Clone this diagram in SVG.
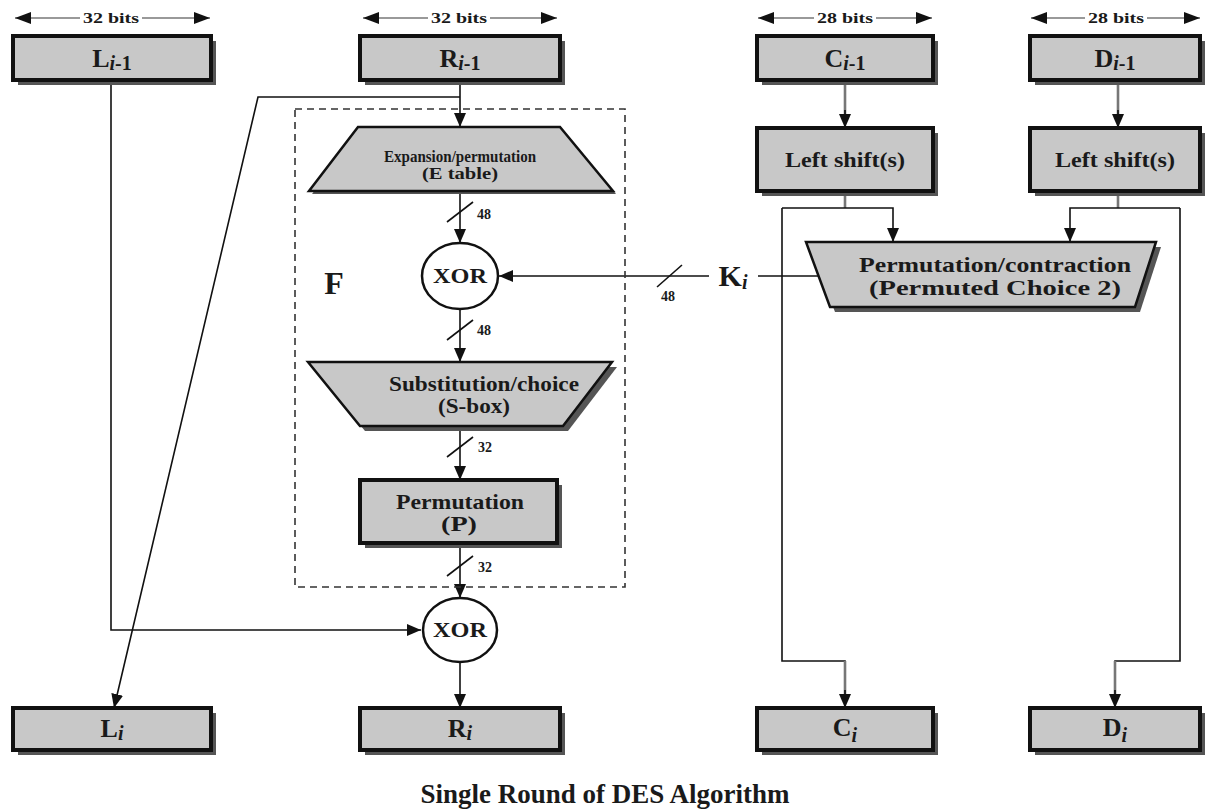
<svg xmlns="http://www.w3.org/2000/svg" width="1206" height="811" viewBox="0 0 1206 811">
  <style>
    .box { fill: #c8c8c8; stroke: #111; stroke-width: 4; }
    .shadow { fill: #555; }
    .trap { fill: #c8c8c8; stroke: #111; stroke-width: 2.5; stroke-linejoin: miter; }
    .xor { fill: #fff; stroke: #111; stroke-width: 2.5; }
    text { font-family: 'Liberation Serif', 'Times New Roman', Tinos, 'DejaVu Serif', serif; }
    .lbl { font-weight: bold; fill: #1a1a1a; text-anchor: middle; }
    .name { font-size: 26px; }
    .sub { font-size: 20px; }
    .it { font-style: italic; }
    .small { font-size: 14px; }
    .mid { font-size: 16px; }
    .big { font-size: 21px; }
    .wire { fill: none; stroke: #111; stroke-width: 1.6; }
    .gwire { fill: none; stroke: #777; stroke-width: 2.6; }
    .dim { fill: none; stroke: #999; stroke-width: 1.8; }
    .tick { stroke: #111; stroke-width: 1.6; }
  </style>
  <defs>
    <marker id="arr" markerUnits="userSpaceOnUse" markerWidth="14" markerHeight="12" viewBox="0 0 14 12" refX="14" refY="6" orient="auto">
      <path d="M0,0 L14,6 L0,12 z" fill="#111"/>
    </marker>
    <marker id="dimArr" markerUnits="userSpaceOnUse" markerWidth="16" markerHeight="12" viewBox="0 0 16 12" refX="16" refY="6" orient="auto-start-reverse">
      <path d="M0,0 L16,6 L0,12 z" fill="#111"/>
    </marker>
  </defs>

  <rect width="1206" height="811" fill="#fff"/>

  <!-- width dimensions -->
  <g id="dimensions">
    <line class="dim" x1="15" y1="18" x2="210" y2="18" marker-start="url(#dimArr)" marker-end="url(#dimArr)"/>
    <rect x="80" y="9" width="62" height="16" fill="#fff"/>
    <text class="lbl small" x="111" y="23" textLength="56" lengthAdjust="spacingAndGlyphs">32 bits</text>
    <line class="dim" x1="363" y1="18" x2="557" y2="18" marker-start="url(#dimArr)" marker-end="url(#dimArr)"/>
    <rect x="428" y="9" width="62" height="16" fill="#fff"/>
    <text class="lbl small" x="459" y="23" textLength="56" lengthAdjust="spacingAndGlyphs">32 bits</text>
    <line class="dim" x1="758" y1="18" x2="932" y2="18" marker-start="url(#dimArr)" marker-end="url(#dimArr)"/>
    <rect x="814" y="9" width="62" height="16" fill="#fff"/>
    <text class="lbl small" x="845" y="23" textLength="56" lengthAdjust="spacingAndGlyphs">28 bits</text>
    <line class="dim" x1="1031" y1="18" x2="1200" y2="18" marker-start="url(#dimArr)" marker-end="url(#dimArr)"/>
    <rect x="1085" y="9" width="62" height="16" fill="#fff"/>
    <text class="lbl small" x="1116" y="23" textLength="56" lengthAdjust="spacingAndGlyphs">28 bits</text>
  </g>

  <!-- connectors -->
  <g id="connectors">
    <!-- L(i-1) to lower XOR -->
    <path class="wire" d="M111,80 V630 H421" marker-end="url(#arr)"/>
    <!-- R(i-1) into F -->
    <path class="wire" d="M460,80 V127" marker-end="url(#arr)"/>
    <!-- R(i-1) becomes L(i) -->
    <path class="wire" d="M460,97 H258 L114,708" marker-end="url(#arr)"/>
    <!-- inside F -->
    <path class="wire" d="M460,191 V243" marker-end="url(#arr)"/>
    <line class="tick" x1="447" y1="222" x2="473" y2="202"/>
    <text class="lbl small" x="484" y="219">48</text>
    <path class="wire" d="M460,309 V362" marker-end="url(#arr)"/>
    <line class="tick" x1="447" y1="340" x2="473" y2="320"/>
    <text class="lbl small" x="484" y="335">48</text>
    <path class="wire" d="M460,426 V480" marker-end="url(#arr)"/>
    <line class="tick" x1="447" y1="457" x2="473" y2="437"/>
    <text class="lbl small" x="485" y="452">32</text>
    <path class="wire" d="M460,543 V598" marker-end="url(#arr)"/>
    <line class="tick" x1="447" y1="576" x2="473" y2="556"/>
    <text class="lbl small" x="485" y="572">32</text>
    <!-- XOR to R(i) -->
    <path class="wire" d="M460,662 V708" marker-end="url(#arr)"/>
    <!-- subkey into F -->
    <path class="wire" d="M818,276 H758"/>
    <path class="wire" d="M709,276 H499" marker-end="url(#arr)"/>
    <line class="tick" x1="657" y1="287" x2="682" y2="265"/>
    <text class="lbl small" x="668" y="301">48</text>
    <!-- key schedule -->
    <path class="gwire" d="M845,82 V116"/>
    <path class="wire" d="M845,110 V128" marker-end="url(#arr)"/>
    <path class="gwire" d="M1118,82 V116"/>
    <path class="wire" d="M1118,110 V128" marker-end="url(#arr)"/>
    <path class="gwire" d="M845,193 V208"/>
    <path class="gwire" d="M1118,193 V208"/>
    <path class="wire" d="M782,208 H893 V242" marker-end="url(#arr)"/>
    <path class="wire" d="M1180,208 H1070 V242" marker-end="url(#arr)"/>
    <path class="wire" d="M782,208 V661 H845 V690"/>
    <path class="gwire" d="M845,661 V700"/>
    <path class="wire" d="M845,690 V708" marker-end="url(#arr)"/>
    <path class="wire" d="M1180,208 V661 H1115 V690"/>
    <path class="gwire" d="M1115,661 V700"/>
    <path class="wire" d="M1115,690 V708" marker-end="url(#arr)"/>
  </g>

  <!-- round function boundary -->
  <g id="F">
    <rect x="295" y="109" width="330" height="478" fill="none" stroke="#333" stroke-width="1.6" stroke-dasharray="7,5"/>
    <text class="lbl" x="334" y="294" font-size="32">F</text>
  </g>

  <!-- K(i) label -->
  <g id="Ki">
    <text class="lbl" x="733" y="286" font-size="30">K<tspan class="it" font-size="20" dy="3">i</tspan></text>
  </g>

  <!-- register boxes, top row -->
  <g id="L_prev">
    <rect class="shadow" x="18" y="41" width="198" height="44"/>
    <rect class="box" x="13" y="36" width="198" height="44"/>
    <text class="lbl name" x="112" y="67">L<tspan class="sub it" dy="3">i</tspan><tspan class="sub" font-size="22">-1</tspan></text>
  </g>
  <g id="R_prev">
    <rect class="shadow" x="365" y="41" width="200" height="44"/>
    <rect class="box" x="360" y="36" width="200" height="44"/>
    <text class="lbl name" x="460" y="67">R<tspan class="sub it" dy="3">i</tspan><tspan class="sub" font-size="22">-1</tspan></text>
  </g>
  <g id="C_prev">
    <rect class="shadow" x="762" y="41" width="176" height="44"/>
    <rect class="box" x="757" y="36" width="176" height="44"/>
    <text class="lbl name" x="845" y="67">C<tspan class="sub it" dy="3">i</tspan><tspan class="sub" font-size="22">-1</tspan></text>
  </g>
  <g id="D_prev">
    <rect class="shadow" x="1035" y="41" width="170" height="44"/>
    <rect class="box" x="1030" y="36" width="170" height="44"/>
    <text class="lbl name" x="1115" y="67">D<tspan class="sub it" dy="3">i</tspan><tspan class="sub" font-size="22">-1</tspan></text>
  </g>

  <!-- left shift boxes -->
  <g id="shiftC">
    <rect class="shadow" x="762" y="133" width="176" height="63"/>
    <rect class="box" x="757" y="128" width="176" height="63"/>
    <text class="lbl big" x="845" y="167" textLength="120" lengthAdjust="spacingAndGlyphs">Left shift(s)</text>
  </g>
  <g id="shiftD">
    <rect class="shadow" x="1035" y="133" width="170" height="63"/>
    <rect class="box" x="1030" y="128" width="170" height="63"/>
    <text class="lbl big" x="1115" y="167" textLength="120" lengthAdjust="spacingAndGlyphs">Left shift(s)</text>
  </g>

  <!-- permuted choice 2 -->
  <g id="PC2">
    <polygon class="shadow" points="811,247 1161,247 1140,312 835,312"/>
    <polygon class="trap" points="806,242 1156,242 1135,307 830,307"/>
    <text class="lbl big" x="995" y="272" textLength="272" lengthAdjust="spacingAndGlyphs">Permutation/contraction</text>
    <text class="lbl big" x="995" y="295" textLength="252" lengthAdjust="spacingAndGlyphs">(Permuted Choice 2)</text>
  </g>

  <!-- expansion -->
  <g id="E">
    <polygon class="shadow" points="362,130 563,130 616,194 312,194"/>
    <polygon class="trap" points="358,127 560,127 613,191 309,191"/>
    <text class="lbl mid" x="460" y="162" textLength="152" lengthAdjust="spacingAndGlyphs">Expansion/permutation</text>
    <text class="lbl mid" x="460" y="179" textLength="76" lengthAdjust="spacingAndGlyphs">(E table)</text>
  </g>

  <!-- first XOR -->
  <g id="XOR1">
    <ellipse class="xor" cx="460" cy="276" rx="38" ry="33"/>
    <text class="lbl" x="460" y="283" font-size="20" textLength="54" lengthAdjust="spacingAndGlyphs">XOR</text>
  </g>

  <!-- S-boxes -->
  <g id="S">
    <polygon class="shadow" points="313,367 617,367 568,431 365,431"/>
    <polygon class="trap" points="308,362 612,362 563,426 360,426"/>
    <text class="lbl big" x="484" y="391" textLength="190" lengthAdjust="spacingAndGlyphs">Substitution/choice</text>
    <text class="lbl big" x="474" y="413" textLength="72" lengthAdjust="spacingAndGlyphs">(S-box)</text>
  </g>

  <!-- permutation P -->
  <g id="P">
    <rect class="shadow" x="365" y="485" width="197" height="63"/>
    <rect class="box" x="360" y="480" width="197" height="63"/>
    <text class="lbl big" x="460" y="509" textLength="128" lengthAdjust="spacingAndGlyphs">Permutation</text>
    <text class="lbl big" x="459" y="531" textLength="36" lengthAdjust="spacingAndGlyphs">(P)</text>
  </g>

  <!-- second XOR -->
  <g id="XOR2">
    <ellipse class="xor" cx="460" cy="630" rx="37" ry="32"/>
    <text class="lbl" x="460" y="637" font-size="20" textLength="54" lengthAdjust="spacingAndGlyphs">XOR</text>
  </g>

  <!-- register boxes, bottom row -->
  <g id="L_next">
    <rect class="shadow" x="18" y="713" width="198" height="42"/>
    <rect class="box" x="13" y="708" width="198" height="42"/>
    <text class="lbl name" x="112" y="737">L<tspan class="sub it" dy="3">i</tspan></text>
  </g>
  <g id="R_next">
    <rect class="shadow" x="365" y="713" width="200" height="42"/>
    <rect class="box" x="360" y="708" width="200" height="42"/>
    <text class="lbl name" x="460" y="737">R<tspan class="sub it" dy="3">i</tspan></text>
  </g>
  <g id="C_next">
    <rect class="shadow" x="762" y="713" width="176" height="42"/>
    <rect class="box" x="757" y="708" width="176" height="42"/>
    <text class="lbl name" x="845" y="736">C<tspan class="sub it" dy="6">i</tspan></text>
  </g>
  <g id="D_next">
    <rect class="shadow" x="1035" y="713" width="170" height="42"/>
    <rect class="box" x="1030" y="708" width="170" height="42"/>
    <text class="lbl name" x="1115" y="736">D<tspan class="sub it" dy="6">i</tspan></text>
  </g>

  <text class="lbl" x="605" y="803" font-size="27">Single Round of DES Algorithm</text>
</svg>
